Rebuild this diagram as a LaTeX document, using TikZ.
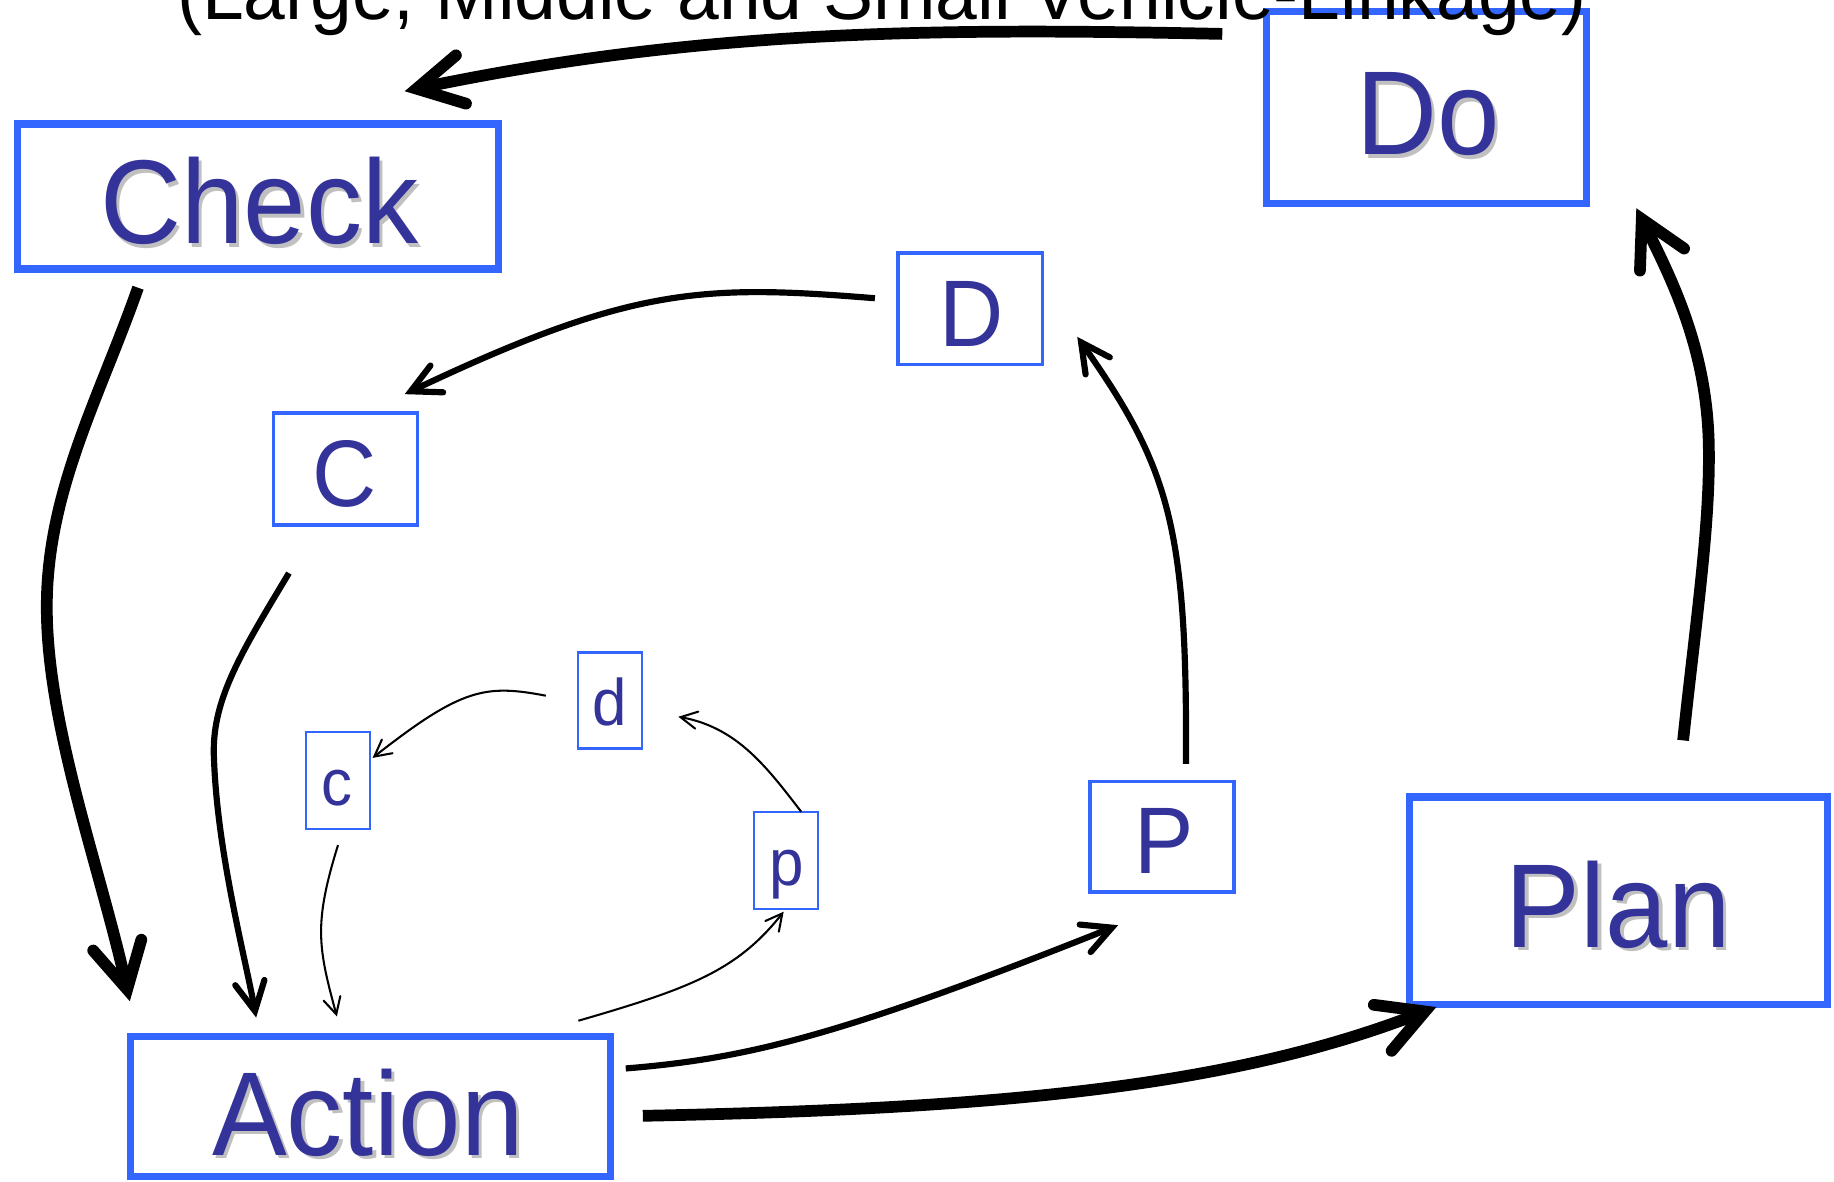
\documentclass[tikz,border=0pt]{standalone}
\usepackage{fontspec}
\setmainfont{Liberation Sans}
\newfontfamily\labfont[FakeStretch=0.94]{Liberation Sans}
\newfontfamily\titlefont[FakeStretch=0.96]{Liberation Sans}
\usetikzlibrary{arrows.meta}
\definecolor{boxblue}{RGB}{51,102,255}
\definecolor{txtblue}{RGB}{51,51,153}
\definecolor{shadowgray}{RGB}{192,192,192}
\begin{document}
\begin{tikzpicture}[x=0.01cm,y=-0.01cm,
  bigbox/.style={draw=boxblue, line width=1.75pt, inner sep=0pt, outer sep=0pt},
  midbox/.style={draw=boxblue, line width=0.85pt, inner sep=0pt, outer sep=0pt},
  smallbox/.style={draw=boxblue, line width=0.55pt, inner sep=0pt, outer sep=0pt},
  biglab/.style={font=\labfont\fontsize{29}{29}\selectfont, text=txtblue, anchor=base, inner sep=0pt},
  bigshadow/.style={biglab, text=shadowgray},
  midlab/.style={font=\labfont\fontsize{23}{23}\selectfont, text=txtblue, anchor=base, inner sep=0pt},
  smalllab/.style={font=\labfont\fontsize{16}{16}\selectfont, text=txtblue, anchor=base, inner sep=0pt},
  titlelab/.style={font=\titlefont\fontsize{19}{19}\selectfont, text=black, anchor=base, inner sep=0pt},
  bigarrow/.style={line width=2.85pt, line cap=butt,
    -{Straight Barb[length=11pt, width=12pt, line cap=round, line join=miter]}},
  midarrow/.style={line width=1.5pt, line cap=butt,
    -{Straight Barb[length=7pt, width=7.2pt, line cap=round, line join=miter]}},
  smallarrow/.style={line width=0.5pt, line cap=butt,
    -{Straight Barb[length=4pt, width=4.2pt, line cap=round, line join=miter]}}
]
\useasboundingbox (0,0) rectangle (1568,1010);

% big boxes
\node[bigbox, minimum width=4.11cm, minimum height=1.24cm] (check) at (220.5,168) {};
\node[bigbox, minimum width=2.73cm, minimum height=1.64cm] (do) at (1219.5,92) {};
\node[bigbox, minimum width=3.565cm, minimum height=1.775cm] (plan) at (1383.75,770.25) {};
\node[bigbox, minimum width=4.10cm, minimum height=1.20cm] (action) at (316.5,946) {};
% middle boxes
\node[midbox, minimum width=1.236cm, minimum height=0.95cm] (D) at (829.5,264) {};
\node[midbox, minimum width=1.23cm, minimum height=0.96cm] (C) at (295.5,401) {};
\node[midbox, minimum width=1.23cm, minimum height=0.945cm] (P) at (993.5,715.25) {};
% small boxes
\node[smallbox, minimum width=0.55cm, minimum height=0.82cm] (d) at (521.5,599) {};
\node[smallbox, minimum width=0.55cm, minimum height=0.83cm] (c) at (289,667.4) {};
\node[smallbox, minimum width=0.55cm, minimum height=0.83cm] (p) at (672,735.5) {};

% labels with shadows
\node[bigshadow] (checkS) at (224.7,211.6) {Check};
\node[biglab] (checkT) at (221.7,208.6) {Check};
\node[bigshadow] (doS) at (1224,135.5) {Do};
\node[biglab] (doT) at (1221,132.5) {Do};
\node[bigshadow] (planS) at (1386.5,813) {Plan};
\node[biglab] (planT) at (1383.5,810) {Plan};
\node[bigshadow] (actionS) at (317.5,990.5) {Action};
\node[biglab] (actionT) at (314.5,987.5) {Action};
\node[midlab] (DT) at (830.5,296) {D};
\node[midlab] (CT) at (295,433) {C};
\node[midlab] (PT) at (995,747) {P};
\node[smalllab] (dT) at (521,620.7) {d};
\node[smalllab] (cT) at (288.5,689) {c};
\node[smalllab] (pT) at (672.5,756.7) {p};

% connector end points
\coordinate (do-out) at (1045,29);
\coordinate (check-in) at (346,78);
\coordinate (check-out) at (118,246);
\coordinate (action-in1) at (111,856);
\coordinate (action-out1) at (549.6,954);
\coordinate (plan-in) at (1228,861);
\coordinate (plan-out) at (1439,633);
\coordinate (do-in) at (1399,178);

\coordinate (D-out) at (748,255);
\coordinate (C-in) at (346,337);
\coordinate (C-out) at (247,490);
\coordinate (action-in2) at (219,870);
\coordinate (action-out2) at (535,913.5);
\coordinate (P-in) at (956,791);
\coordinate (P-out) at (1014,653);
\coordinate (D-in) at (921,288);

\coordinate (d-out) at (466.7,594.8);
\coordinate (c-in) at (318.5,648);
\coordinate (c-out) at (289,722.5);
\coordinate (action-in3) at (288,869);
\coordinate (action-out3) at (494.5,872.7);
\coordinate (p-in) at (670,779.5);
\coordinate (p-out) at (685,694);
\coordinate (d-in) at (580,612.8);

% big cycle
\draw[bigarrow] (do-out) .. controls (800,24) and (600,25) .. (check-in);
\draw[bigarrow] (check-out) .. controls (85,340) and (40,420) .. (40,519)
   .. controls (40,620) and (85,740) .. (action-in1);
\draw[bigarrow] (action-out1) .. controls (850,948) and (1050,930) .. (plan-in);
\draw[bigarrow] (plan-out) .. controls (1450,530) and (1462,450) .. (1461,383)
   .. controls (1460,300) and (1430,240) .. (do-in);

% middle cycle
\draw[midarrow] (D-out) .. controls (600,243) and (540,245) .. (C-in);
\draw[midarrow] (C-out) .. controls (205,560) and (180,600) .. (183,650)
   .. controls (186,730) and (210,820) .. (action-in2);
\draw[midarrow] (action-out2) .. controls (640,905) and (720,885) .. (P-in);
\draw[midarrow] (P-out) .. controls (1015,450) and (1000,400) .. (D-in);

% small cycle
\draw[smallarrow] (d-out) .. controls (415,585) and (395,588) .. (c-in);
\draw[smallarrow] (c-out) .. controls (268,790) and (272,810) .. (action-in3);
\draw[smallarrow] (action-out3) .. controls (590,845) and (630,830) .. (p-in);
\draw[smallarrow] (p-out) .. controls (655,655) and (630,622) .. (d-in);

% title (cut off at the top, as in the reference)
\node[titlelab] (title) at (754,17) {(Large, Middle and Small Vehicle-Linkage)};
\end{tikzpicture}
\end{document}
